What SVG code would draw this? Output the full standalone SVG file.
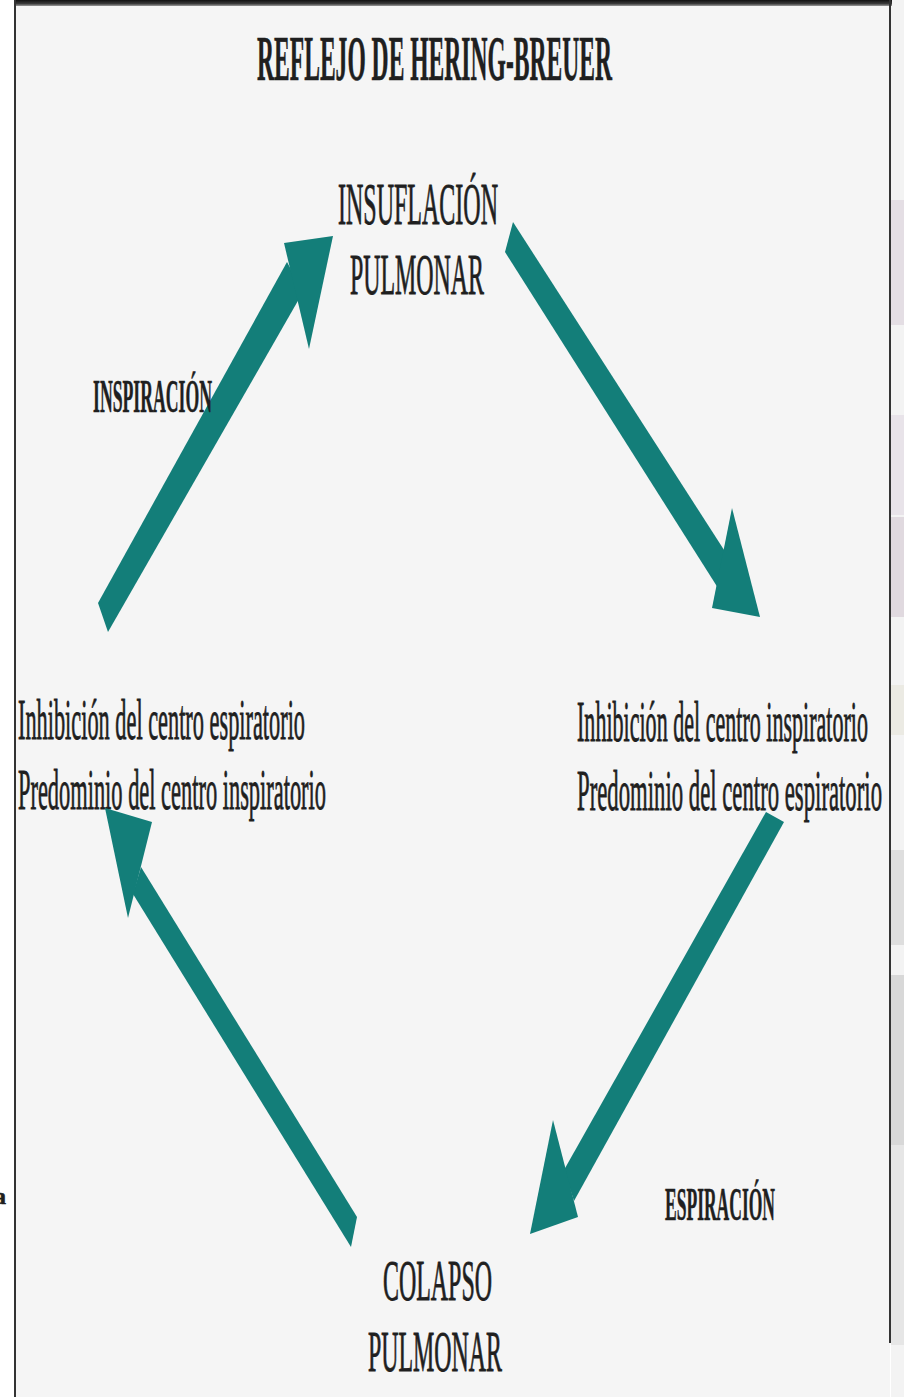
<svg xmlns="http://www.w3.org/2000/svg" width="904" height="1397" viewBox="0 0 904 1397">
  <defs>
    <linearGradient id="topBand" x1="0" y1="0" x2="0" y2="1">
      <stop offset="0" stop-color="#111111"/>
      <stop offset="0.6" stop-color="#3a3a3a"/>
      <stop offset="1" stop-color="#9a9a9a"/>
    </linearGradient>
    <style>
      .txt { font-family: "Liberation Serif", "Times New Roman", serif; fill: #1f1f1f; stroke: #1f1f1f; stroke-width: 0.9; }
      .bold { font-weight: bold; stroke-width: 0.6; }
      .arrow { fill: #137e79; }
      .frame { stroke: #333333; stroke-width: 2; fill: none; }
    </style>
  </defs>

  <!-- page and panel background -->
  <rect x="0" y="0" width="904" height="1397" fill="#ffffff"/>
  <rect x="14" y="0" width="876" height="1397" fill="#f5f5f5"/>

  <!-- neighbouring strip on the right edge -->
  <g id="side-strip">
    <rect x="891" y="0" width="13" height="1397" fill="#f3f3f3"/>
    <rect x="891" y="200" width="13" height="125" fill="#e4dee4"/>
    <rect x="891" y="415" width="13" height="100" fill="#e8e3e9"/>
    <rect x="891" y="517" width="13" height="100" fill="#e0d9df"/>
    <rect x="891" y="685" width="13" height="50" fill="#ebeae3"/>
    <rect x="891" y="850" width="13" height="95" fill="#dedede"/>
    <rect x="891" y="975" width="13" height="170" fill="#d8d8d8"/>
    <rect x="891" y="1145" width="13" height="200" fill="#e6e6e6"/>
  </g>

  <!-- panel frame -->
  <rect x="14" y="0" width="878" height="6" fill="url(#topBand)"/>
  <line class="frame" x1="15" y1="0" x2="15" y2="1397"/>
  <line class="frame" x1="890" y1="0" x2="890" y2="1343"/>

  <!-- fragment of a neighbouring text on the far left -->
  <text class="txt bold" x="-6" y="1204" font-size="24">a</text>

  <!-- title -->
  <g id="title">
    <text class="txt bold" x="257" y="80" font-size="63" textLength="355" lengthAdjust="spacingAndGlyphs">REFLEJO DE HERING-BREUER</text>
  </g>

  <!-- cycle states -->
  <g id="node-insuflacion">
    <text class="txt" x="338" y="224" font-size="60" textLength="160" lengthAdjust="spacingAndGlyphs">INSUFLACIÓN</text>
    <text class="txt" x="350" y="294" font-size="58" textLength="134" lengthAdjust="spacingAndGlyphs">PULMONAR</text>
  </g>

  <g id="node-inhibicion-inspiratoria">
    <text class="txt" x="577" y="741" font-size="58" textLength="291" lengthAdjust="spacingAndGlyphs">Inhibición del centro inspiratorio</text>
    <text class="txt" x="577" y="810" font-size="58" textLength="305" lengthAdjust="spacingAndGlyphs">Predominio del centro espiratorio</text>
  </g>

  <g id="node-colapso">
    <text class="txt" x="383" y="1300" font-size="57" textLength="109" lengthAdjust="spacingAndGlyphs">COLAPSO</text>
    <text class="txt" x="368" y="1371" font-size="57" textLength="134" lengthAdjust="spacingAndGlyphs">PULMONAR</text>
  </g>

  <g id="node-inhibicion-espiratoria">
    <text class="txt" x="18" y="739" font-size="58" textLength="287" lengthAdjust="spacingAndGlyphs">Inhibición del centro espiratorio</text>
    <text class="txt" x="18" y="809" font-size="58" textLength="308" lengthAdjust="spacingAndGlyphs">Predominio del centro inspiratorio</text>
  </g>

  <!-- connectors: block arrows around the cycle -->
  <g id="connectors">
    <g id="arrow-inspiracion">
      <polygon class="arrow" points="98,603 287,262 303,292 108,632"/>
      <polygon class="arrow" points="284,243 333,236 309,349"/>
      <text class="txt bold" x="93" y="412" font-size="46" textLength="119" lengthAdjust="spacingAndGlyphs">INSPIRACIÓN</text>
    </g>
    <g id="arrow-insuflacion-inhibicion">
      <polygon class="arrow" points="513,222 726,553 718,588 505,252"/>
      <polygon class="arrow" points="732,508 760,617 712,608"/>
    </g>
    <g id="arrow-espiracion">
      <polygon class="arrow" points="766,812 784,822 574,1201 564,1170"/>
      <polygon class="arrow" points="553,1120 530,1234 578,1217"/>
      <text class="txt bold" x="665" y="1220" font-size="46" textLength="110" lengthAdjust="spacingAndGlyphs">ESPIRACIÓN</text>
    </g>
    <g id="arrow-colapso-inhibicion">
      <polygon class="arrow" points="141,867 357,1217 351,1247 133,894"/>
      <polygon class="arrow" points="105,808 152,822 128,918"/>
    </g>
  </g>
</svg>
